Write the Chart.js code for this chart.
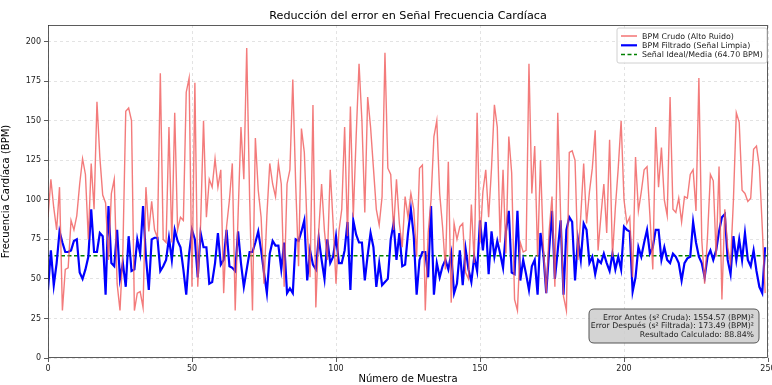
<!DOCTYPE html>
<html>
<head>
<meta charset="utf-8">
<script src="https://cdn.jsdelivr.net/npm/chart.js@4.4.1/dist/chart.umd.min.js"></script>
<style>
  html, body { margin: 0; padding: 0; background: #fff; }
  #wrap { width: 772px; height: 385px; }
</style>
</head>
<body>
<div id="wrap"><canvas id="chart" width="772" height="385"></canvas></div>
<script>
const TITLE = "Reducción del error en Señal Frecuencia Cardíaca";
const X_TICKS = [0, 50, 100, 150, 200, 250];
const Y_TICKS = [0, 25, 50, 75, 100, 125, 150, 175, 200];
const IDEAL_MEAN = 64.70;

// BPM crudo (alto ruido), muestras 0..249
const rawBpm = [
  89, 113, 95, 81, 108, 30, 56, 57, 87, 81,
  90, 110, 126, 116, 75, 123, 94, 162, 127, 103,
  98, 62, 104, 113, 47, 30, 68, 156, 158, 150,
  30, 41, 42, 32, 108, 80, 99, 81, 76, 180,
  75, 73, 146, 73, 155, 81, 89, 87, 168, 177,
  45, 174, 45, 85, 150, 89, 113, 108, 126, 108,
  119, 41, 83, 100, 123, 30, 90, 146, 113, 196,
  102, 30, 139, 106, 89, 47, 90, 123, 110, 102,
  123, 110, 45, 110, 119, 176, 110, 58, 145, 130,
  81, 51, 160, 32, 80, 110, 80, 62, 119, 85,
  47, 80, 94, 146, 77, 159, 89, 140, 186, 150,
  92, 165, 146, 120, 94, 84, 102, 193, 120, 116,
  81, 113, 85, 70, 102, 89, 104, 94, 64, 120,
  122, 30, 79, 100, 140, 150, 104, 83, 56, 124,
  35, 85, 75, 83, 85, 54, 50, 97, 60, 155,
  73, 105, 119, 89, 120, 160, 146, 73, 119, 66,
  140, 117, 37, 30, 73, 67, 68, 186, 104, 134,
  64, 125, 70, 41, 80, 102, 45, 155, 89, 39,
  30, 130, 131, 125, 62, 90, 123, 85, 105, 120,
  144, 68, 90, 110, 79, 138, 64, 95, 120, 150,
  100, 85, 89, 51, 127, 93, 105, 119, 121, 90,
  56, 146, 108, 133, 100, 90, 165, 94, 92, 101,
  86, 102, 101, 116, 119, 93, 177, 75, 47, 77,
  116, 112, 64, 121, 37, 94, 70, 60, 100, 155,
  149, 106, 104, 99, 101, 132, 134, 121, 83, 41
];

// BPM filtrado (señal limpia), muestras 0..249
const filteredBpm = [
  43, 68, 46, 60, 80, 73, 67, 67, 68, 74,
  75, 54, 50, 56, 64, 94, 67, 67, 79, 77,
  40, 96, 60, 58, 81, 50, 60, 45, 77, 55,
  56, 75, 66, 96, 64, 43, 75, 76, 76, 55,
  58, 62, 76, 62, 81, 74, 70, 56, 40, 66,
  81, 75, 51, 79, 70, 70, 47, 48, 60, 79,
  59, 62, 81, 58, 57, 55, 80, 60, 45, 56,
  67, 67, 73, 80, 68, 54, 41, 66, 74, 71,
  71, 56, 73, 41, 44, 41, 75, 74, 80, 87,
  49, 68, 59, 56, 76, 62, 50, 75, 60, 64,
  77, 60, 60, 68, 86, 43, 87, 78, 73, 73,
  49, 65, 79, 70, 45, 60, 46, 48, 50, 75,
  85, 62, 79, 58, 59, 79, 94, 77, 40, 62,
  67, 67, 51, 96, 40, 60, 51, 58, 62, 56,
  66, 41, 47, 68, 46, 69, 56, 48, 64, 55,
  87, 68, 86, 53, 80, 64, 74, 66, 57, 80,
  93, 54, 53, 93, 49, 62, 53, 43, 58, 62,
  40, 79, 66, 41, 68, 93, 50, 68, 87, 40,
  81, 89, 86, 49, 75, 62, 85, 81, 60, 64,
  53, 62, 60, 66, 60, 55, 66, 56, 64, 56,
  83, 81, 80, 42, 51, 70, 64, 73, 81, 66,
  70, 81, 81, 62, 70, 62, 60, 66, 64, 60,
  49, 60, 63, 64, 86, 73, 64, 60, 51, 64,
  68, 62, 68, 80, 89, 91, 62, 53, 77, 62,
  75, 62, 79, 62, 58, 68, 55, 45, 41, 70
];

const LEGEND_ITEMS = [
  { text: "BPM Crudo (Alto Ruido)", color: "rgba(240,90,90,0.85)", width: 1.5, dash: [] },
  { text: "BPM Filtrado (Señal Limpia)", color: "#0000ff", width: 2.2, dash: [] },
  { text: "Señal Ideal/Media (64.70 BPM)", color: "#008000", width: 1.5, dash: [4, 2.5] }
];
const STATS_LINES = [
  "Error Antes (s² Cruda): 1554.57 (BPM)²",
  "Error Después (s² Filtrada): 173.49 (BPM)²",
  "Resultado Calculado: 88.84%"
];

const FONT = "'DejaVu Sans', sans-serif";

const toPoints = arr => arr.map((v, i) => ({ x: i, y: v }));

const extras = {
  id: "extras",
  afterDraw(chart) {
    const ctx = chart.ctx;
    const a = chart.chartArea;
    ctx.save();

    // marco
    ctx.strokeStyle = "#333";
    ctx.lineWidth = 0.8;
    ctx.strokeRect(a.left + 0.5, a.top + 0.5, a.right - a.left - 1, a.bottom - a.top - 1);

    // titulo
    ctx.fillStyle = "#000";
    ctx.font = "11.2px " + FONT;
    ctx.textAlign = "center";
    ctx.textBaseline = "middle";
    ctx.fillText(TITLE, (a.left + a.right) / 2, 16);

    // leyenda
    const lx = 617, ly = 28, lw = 150, lh = 35;
    ctx.fillStyle = "rgba(255,255,255,0.85)";
    ctx.strokeStyle = "#d0d0d0";
    ctx.lineWidth = 1;
    roundRect(ctx, lx, ly, lw, lh, 2);
    ctx.fill();
    ctx.stroke();
    ctx.font = "7.9px " + FONT;
    ctx.textAlign = "left";
    LEGEND_ITEMS.forEach((it, i) => {
      const y = ly + 8 + i * 9.3;
      ctx.beginPath();
      ctx.strokeStyle = it.color;
      ctx.lineWidth = it.width;
      ctx.setLineDash(it.dash);
      ctx.moveTo(lx + 4, y);
      ctx.lineTo(lx + 20, y);
      ctx.stroke();
      ctx.setLineDash([]);
      ctx.fillStyle = "#222";
      ctx.fillText(it.text, lx + 25, y + 0.5);
    });

    // caja de resultados
    const bx = 589, by = 309, bw = 170, bh = 34;
    ctx.fillStyle = "rgba(205,205,205,0.85)";
    ctx.strokeStyle = "#555";
    ctx.lineWidth = 1;
    roundRect(ctx, bx, by, bw, bh, 5);
    ctx.fill();
    ctx.stroke();
    ctx.fillStyle = "#222";
    ctx.font = "7.8px " + FONT;
    ctx.textAlign = "right";
    STATS_LINES.forEach((t, i) => {
      ctx.fillText(t, bx + bw - 5, by + 9 + i * 8.4);
    });

    ctx.restore();
  }
};

function roundRect(ctx, x, y, w, h, r) {
  ctx.beginPath();
  ctx.moveTo(x + r, y);
  ctx.lineTo(x + w - r, y);
  ctx.quadraticCurveTo(x + w, y, x + w, y + r);
  ctx.lineTo(x + w, y + h - r);
  ctx.quadraticCurveTo(x + w, y + h, x + w - r, y + h);
  ctx.lineTo(x + r, y + h);
  ctx.quadraticCurveTo(x, y + h, x, y + h - r);
  ctx.lineTo(x, y + r);
  ctx.quadraticCurveTo(x, y, x + r, y);
  ctx.closePath();
}

const gridStyle = {
  color: "rgba(0,0,0,0.14)",
  lineWidth: 0.8,
  tickColor: "#333",
  tickLength: 4,
  drawTicks: true
};

new Chart(document.getElementById("chart"), {
  type: "line",
  data: {
    datasets: [
      {
        label: LEGEND_ITEMS[0].text,
        data: toPoints(rawBpm),
        borderColor: "rgba(240,90,90,0.8)",
        borderWidth: 1.4,
        pointRadius: 0,
        tension: 0
      },
      {
        label: LEGEND_ITEMS[1].text,
        data: toPoints(filteredBpm),
        borderColor: "#0000ff",
        borderWidth: 2.2,
        pointRadius: 0,
        tension: 0
      },
      {
        label: LEGEND_ITEMS[2].text,
        data: [{ x: X_TICKS[0], y: IDEAL_MEAN }, { x: X_TICKS[X_TICKS.length - 1], y: IDEAL_MEAN }],
        borderColor: "#008000",
        borderWidth: 1.5,
        borderDash: [4, 2.5],
        pointRadius: 0
      }
    ]
  },
  options: {
    responsive: false,
    animation: false,
    layout: { padding: { top: 25, right: 4, left: 0, bottom: 0 } },
    plugins: {
      legend: { display: false },
      title: { display: false },
      tooltip: { enabled: false }
    },
    scales: {
      x: {
        type: "linear",
        min: 0,
        max: 250,
        afterBuildTicks: s => { s.ticks = X_TICKS.map(v => ({ value: v })); },
        afterFit: s => { s.height = 27; s.paddingRight = 0; s.paddingLeft = 0; },
        grid: { ...gridStyle, borderDash: [3, 3] },
        border: { display: false, dash: [3, 3] },
        ticks: { font: { family: FONT, size: 8 }, color: "#222", padding: 2, maxRotation: 0 },
        title: { display: true, text: "Número de Muestra", font: { family: FONT, size: 10 }, color: "#000", padding: { top: 0, bottom: 0 } }
      },
      y: {
        min: 0,
        max: 210.5,
        afterBuildTicks: s => { s.ticks = Y_TICKS.map(v => ({ value: v })); },
        afterFit: s => { s.width = 48; },
        grid: gridStyle,
        border: { display: false, dash: [3, 3] },
        ticks: { font: { family: FONT, size: 8 }, color: "#222", padding: 3 },
        title: { display: true, text: "Frecuencia Cardíaca (BPM)", font: { family: FONT, size: 10 }, color: "#000", padding: { top: 0, bottom: 2 } }
      }
    }
  },
  plugins: [extras]
});
</script>
</body>
</html>
